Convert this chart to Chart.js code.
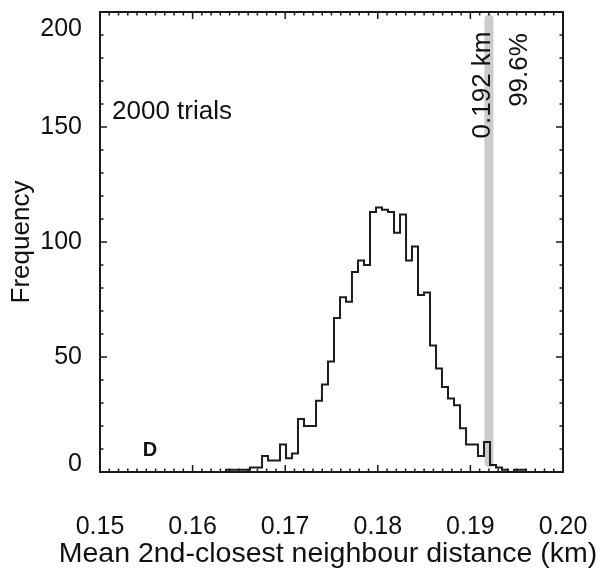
<!DOCTYPE html>
<html><head><meta charset="utf-8">
<script src="https://cdn.jsdelivr.net/npm/chart.js@4/dist/chart.umd.min.js"></script>
<style>html,body{margin:0;padding:0;background:#fff;overflow:hidden}canvas{display:block}</style>
</head><body>
<canvas id="c" width="601" height="573"></canvas>
<script>
// ---- data ----
const binEdges = [
  0.16361, 0.16426, 0.16490, 0.16555, 0.16620, 0.16685, 0.16750, 0.16814, 0.16879, 0.16944,
  0.17009, 0.17073, 0.17138, 0.17203, 0.17268, 0.17333, 0.17397, 0.17462, 0.17527, 0.17592,
  0.17657, 0.17721, 0.17786, 0.17851, 0.17916, 0.17981, 0.18045, 0.18110, 0.18175, 0.18240,
  0.18305, 0.18369, 0.18434, 0.18499, 0.18564, 0.18629, 0.18693, 0.18758, 0.18823, 0.18888,
  0.18953, 0.19017, 0.19082, 0.19147, 0.19212, 0.19277, 0.19341, 0.19406, 0.19471, 0.19536,
  0.19600
];
const frequencies = [
  1, 1, 1, 1, 2, 2, 7, 5, 5, 12,
  6, 8, 23, 20, 20, 31, 38, 48, 67, 76,
  74, 87, 92, 90, 113, 115, 114, 113, 104, 112,
  92, 98, 77, 78, 55, 45, 37, 32, 29, 19,
  12, 12, 7, 13, 3, 2, 1, 0, 1, 1
];
const xTickLabels = ['0.15', '0.16', '0.17', '0.18', '0.19', '0.20'];
const yTickLabels = ['0', '50', '100', '150', '200'];
const xRange = [0.15, 0.20];
const yRange = [0, 200];
const xMinorStep = 0.001;
const yMinorStep = 10;
const observedDistance = 0.192;
const observedLabel = '0.192 km';
const percentileLabel = '99.6%';
const trialsLabel = '2000 trials';
const panelLabel = 'D';
const xTitle = 'Mean 2nd-closest neighbour distance (km)';
const yTitle = 'Frequency';

// ---- build datasets ----
const histPoints = [{x: xRange[0], y: 0}];
frequencies.forEach((f, i) => histPoints.push({x: binEdges[i], y: f}));
histPoints.push({x: binEdges[binEdges.length - 1], y: 0});
histPoints.push({x: xRange[1], y: 0});

const markerPoints = [{x: observedDistance, y: 4}, {x: observedDistance, y: 197}];

const FONT = '"Liberation Sans", Arial, Helvetica, sans-serif';
const INK = '#111111';

const labelShiftPlugin = {
  id: 'labelShift',
  beforeDraw(chart) {
    const items = chart.scales.y.getLabelItems(chart.chartArea);
    items.forEach(it => {
      if (it._shifted) return;
      if (it.label === yTickLabels[yTickLabels.length - 1]) it.options.translation[1] += 17;
      if (it.label === yTickLabels[0]) it.options.translation[1] -= 8;
      it._shifted = true;
    });
  }
};

const framePlugin = {
  id: 'frame',
  afterDatasetsDraw(chart) {
    const {ctx, chartArea: a, scales: {x, y}} = chart;
    ctx.save();
    ctx.strokeStyle = '#1a1a1a';
    ctx.lineWidth = 1.5;
    ctx.beginPath();
    x.ticks.forEach(t => {
      const px = x.getPixelForValue(t.value);
      const len = t.label ? 7 : 3.5;
      ctx.moveTo(px, a.bottom); ctx.lineTo(px, a.bottom - len);
      ctx.moveTo(px, a.top); ctx.lineTo(px, a.top + len);
    });
    y.ticks.forEach(t => {
      const py = y.getPixelForValue(t.value);
      const len = t.label ? 7 : 3.5;
      ctx.moveTo(a.left, py); ctx.lineTo(a.left + len, py);
      ctx.moveTo(a.right, py); ctx.lineTo(a.right - len, py);
    });
    ctx.stroke();
    ctx.lineWidth = 2;
    ctx.strokeRect(a.left, a.top, a.right - a.left, a.bottom - a.top);
    ctx.restore();
  }
};

const textPlugin = {
  id: 'texts',
  afterDatasetsDraw(chart) {
    const {ctx, scales: {x}} = chart;
    const mx = x.getPixelForValue(observedDistance);
    ctx.save();
    ctx.fillStyle = INK;
    ctx.textBaseline = 'middle';
    ctx.font = '26px ' + FONT;
    ctx.textAlign = 'left';
    ctx.fillText(trialsLabel, 112, 112);
    ctx.font = 'bold 20px ' + FONT;
    ctx.textAlign = 'center';
    ctx.fillText(panelLabel, 150, 450);
    ctx.font = '26px ' + FONT;
    ctx.save();
    ctx.translate(mx - 6, 85);
    ctx.rotate(-Math.PI / 2);
    ctx.fillText(observedLabel, 0, 0);
    ctx.restore();
    ctx.save();
    ctx.translate(mx + 31, 70);
    ctx.rotate(-Math.PI / 2);
    ctx.fillText(percentileLabel, 0, 0);
    ctx.restore();
    // x-axis title (drawn without width squeezing)
    ctx.font = '28.5px ' + FONT;
    ctx.textAlign = 'center';
    ctx.fillText(xTitle, 328, 554);
    ctx.restore();
  }
};

new Chart(document.getElementById('c'), {
  type: 'line',
  data: {
    datasets: [
      {
        data: histPoints,
        stepped: 'before',
        borderColor: '#1c1c1c',
        borderWidth: 2,
        pointRadius: 0,
        fill: false,
        tension: 0,
        order: 1
      },
      {
        data: markerPoints,
        borderColor: '#cbcbcb',
        borderWidth: 9,
        borderCapStyle: 'round',
        pointRadius: 0,
        fill: false,
        order: 2
      }
    ]
  },
  options: {
    responsive: false,
    devicePixelRatio: 1,
    animation: false,
    layout: {padding: {top: 12, right: 38, left: 0, bottom: 0}},
    plugins: {legend: {display: false}, tooltip: {enabled: false}},
    scales: {
      x: {
        type: 'linear',
        min: xRange[0], max: xRange[1],
        grid: {display: false},
        border: {display: false},
        afterBuildTicks(s) {
          const n = Math.round((xRange[1] - xRange[0]) / xMinorStep);
          const t = [];
          for (let i = 0; i <= n; i++) t.push({value: +(xRange[0] + i * xMinorStep).toFixed(4)});
          s.ticks = t;
        },
        afterFit(s) { s.height = 101; s.paddingLeft = 0; s.paddingRight = 0; },
        ticks: {
          autoSkip: false, maxRotation: 0, minRotation: 0, padding: 32,
          color: INK, font: {size: 25, family: FONT},
          callback(v) { const s = Number(v).toFixed(2); return (Math.abs(v * 100 - Math.round(v * 100)) < 1e-6 && xTickLabels.includes(s)) ? s : ''; }
        },
        title: {display: false}
      },
      y: {
        type: 'linear',
        min: yRange[0], max: yRange[1],
        grid: {display: false},
        border: {display: false},
        afterBuildTicks(s) {
          const n = Math.round((yRange[1] - yRange[0]) / yMinorStep);
          const t = [];
          for (let i = 0; i <= n; i++) t.push({value: yRange[0] + i * yMinorStep});
          s.ticks = t;
        },
        afterFit(s) { s.width = 100; s.paddingTop = 0; s.paddingBottom = 0; },
        ticks: {
          autoSkip: false, padding: 10,
          color: INK, font: {size: 25, family: FONT},
          callback(v) { return yTickLabels.includes(String(v)) ? String(v) : ''; }
        },
        title: {display: true, text: yTitle, color: INK, font: {size: 26, family: FONT}, padding: {top: 6, bottom: 0}}
      }
    }
  },
  plugins: [labelShiftPlugin, framePlugin, textPlugin]
});
</script>
</body></html>
